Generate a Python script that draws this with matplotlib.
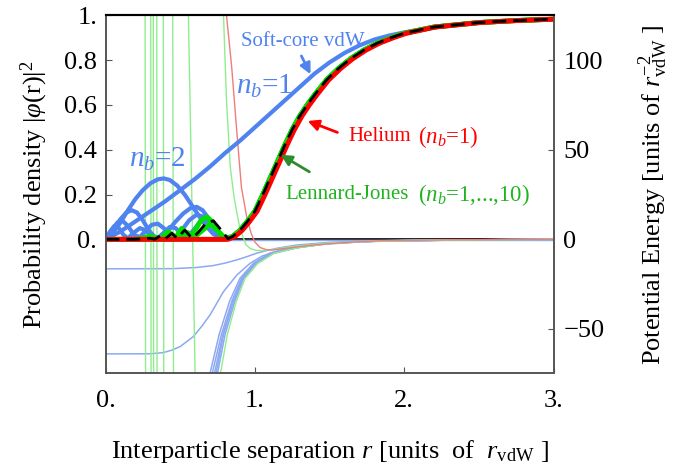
import matplotlib
matplotlib.use('Agg')
import matplotlib.pyplot as plt

plt.rcParams['font.family'] = ['Liberation Serif', 'DejaVu Serif']
plt.rcParams['mathtext.fontset'] = 'custom'
plt.rcParams['mathtext.rm'] = 'Liberation Serif'
plt.rcParams['mathtext.it'] = 'Liberation Serif:italic'
plt.rcParams['mathtext.bf'] = 'Liberation Serif:bold'

# colours
BLUE = '#4F83F0'
GREEN = '#00E000'
RED = '#FF0000'
BLUE_THIN = '#8DA9F2'
GREEN_THIN = '#8EEE8E'
RED_THIN = '#F07C7C'

# ---- wavefunctions |phi(r)|^2 (left axis) ----
# common outer tail (Lennard-Jones / dashed vdW)
tail_x = [0.85, 0.90, 0.95, 1.00, 1.05, 1.10, 1.15, 1.20, 1.25, 1.30, 1.35, 1.40,
          1.48, 1.56, 1.64, 1.73, 1.82, 1.92, 2.00, 2.20, 2.50, 2.75, 3.00]
tail_y = [0.012, 0.04, 0.08, 0.125, 0.195, 0.27, 0.345, 0.42, 0.49, 0.55, 0.60, 0.645,
          0.712, 0.763, 0.806, 0.845, 0.876, 0.902, 0.92, 0.948, 0.968, 0.977, 0.983]

# helium (n_b=1)
he_x = [0.0, 0.82, 0.865, 0.915, 0.965, 1.015, 1.065, 1.115, 1.165, 1.215, 1.265, 1.315,
        1.365, 1.415, 1.495, 1.575, 1.655, 1.745, 1.835, 1.935, 2.015, 2.21, 2.51, 2.76, 3.0]
he_y = [0.0, 0.0, 0.012, 0.04, 0.08, 0.125, 0.195, 0.27, 0.345, 0.42, 0.49, 0.55,
        0.60, 0.645, 0.712, 0.763, 0.806, 0.845, 0.876, 0.902, 0.92, 0.948, 0.968, 0.977, 0.983]

# soft-core vdW, n_b = 1
sc1_x = [0.0, 0.1, 0.2, 0.3, 0.4, 0.5, 0.6, 0.7, 0.8, 0.9, 1.0, 1.1, 1.2, 1.3, 1.4,
         1.5, 1.6, 1.7, 1.8, 1.9, 2.0, 2.2, 2.5, 2.75, 3.0]
sc1_y = [0.0, 0.035, 0.08, 0.125, 0.17, 0.22, 0.27, 0.325, 0.385, 0.44, 0.50, 0.56, 0.62,
         0.68, 0.74, 0.79, 0.832, 0.866, 0.892, 0.91, 0.924, 0.948, 0.968, 0.977, 0.983]

# soft-core vdW, inner lobes for deeper potentials (n_b = 2, ...)
sc2_x = [0.0, 0.05, 0.1, 0.15, 0.2, 0.25, 0.3, 0.35, 0.39, 0.43, 0.48, 0.53, 0.58, 0.63,
         0.68, 0.72, 0.76, 0.80]
sc2_y = [0.0, 0.03, 0.075, 0.13, 0.18, 0.22, 0.25, 0.268, 0.272, 0.265, 0.24, 0.20, 0.15,
         0.10, 0.055, 0.025, 0.008, 0.002]
sc3_x = [0.0, 0.05, 0.1, 0.14, 0.175, 0.21, 0.25, 0.29, 0.33, 0.37, 0.42, 0.47, 0.52, 0.57,
         0.61, 0.65, 0.70, 0.75, 0.80]
sc3_y = [0.0, 0.04, 0.09, 0.12, 0.13, 0.12, 0.085, 0.04, 0.01, 0.01, 0.04, 0.08, 0.115, 0.14,
         0.145, 0.13, 0.085, 0.035, 0.005]
sc4_x = [0.0, 0.04, 0.08, 0.11, 0.15, 0.19, 0.23, 0.27, 0.31, 0.35, 0.39, 0.43, 0.47, 0.51,
         0.56, 0.61, 0.66, 0.71, 0.76, 0.80]
sc4_y = [0.0, 0.04, 0.075, 0.085, 0.06, 0.02, 0.01, 0.04, 0.065, 0.07, 0.05, 0.02, 0.01, 0.04,
         0.085, 0.11, 0.10, 0.06, 0.02, 0.003]
sc5_x = [0.0, 0.03, 0.06, 0.09, 0.12, 0.15, 0.19, 0.23, 0.27, 0.31, 0.35, 0.39, 0.43, 0.47,
         0.51, 0.55, 0.60, 0.65, 0.70, 0.75, 0.80]
sc5_y = [0.0, 0.035, 0.06, 0.05, 0.02, 0.005, 0.03, 0.05, 0.04, 0.01, 0.005, 0.03, 0.055, 0.05,
         0.02, 0.01, 0.05, 0.095, 0.08, 0.03, 0.005]

# Lennard-Jones inner parts
lj1_x = [0.0, 0.80]
lj1_y = [0.0, 0.0]
lj2_x = [0.0, 0.2, 0.26, 0.30, 0.34, 0.37, 0.40, 0.42, 0.45, 0.47, 0.49, 0.51, 0.54, 0.566,
         0.60, 0.64, 0.68, 0.72, 0.76, 0.80]
lj2_y = [0.0, 0.0, 0.008, 0.015, 0.006, 0.002, 0.025, 0.034, 0.02, 0.004, 0.03, 0.049, 0.03,
         0.003, 0.04, 0.085, 0.10, 0.075, 0.03, 0.004]
lj3_x = [0.0, 0.45, 0.5, 0.55, 0.6, 0.65, 0.7, 0.75, 0.8]
lj3_y = [0.0, 0.0, 0.01, 0.03, 0.012, 0.04, 0.07, 0.04, 0.005]

# zero-energy vdW (dashed)
vdw_x = [0.0, 0.2, 0.3, 0.33, 0.365, 0.40, 0.443, 0.48, 0.53, 0.58, 0.62, 0.67, 0.722, 0.77, 0.82]
vdw_y = [0.0, 0.0, 0.005, 0.0, 0.015, 0.002, 0.027, 0.005, 0.041, 0.005, 0.03, 0.07, 0.083,
         0.045, 0.003]

# ---- potentials (right axis) ----
pot_a_x = [0.0, 0.45, 0.6, 0.72, 0.80, 0.88, 0.95, 1.01, 1.08, 1.15, 1.28, 1.5, 1.84, 2.3, 3.0]
pot_a_y = [-16.5, -16.4, -15.8, -14.7, -13.3, -11.5, -9.6, -7.8, -6.3, -5.0, -3.2, -1.7, -0.8,
           -0.35, -0.1]
pot_b_x = [0.0, 0.3, 0.385, 0.44, 0.5, 0.588, 0.645, 0.70, 0.79, 0.88, 0.968, 1.05, 1.17,
           1.39, 1.73, 2.3, 3.0]
pot_b_y = [-64.0, -63.9, -63.3, -62.0, -59.9, -54.3, -48.5, -42.2, -29.2, -19.9, -13.4, -9.3,
           -6.0, -3.2, -1.3, -0.4, -0.1]

# deep soft-core / LJ tails: x position of each curve at fixed energies
tail_E = [-74.8, -53.4, -34.8, -21.8, -13.4, -7.8, -4.7, -2.2, -0.95, -0.3, -0.05]
deep_sc_x = [
    [0.70, 0.76, 0.83, 0.90, 0.99, 1.10, 1.26, 1.48, 1.82, 2.40, 3.0],
    [0.715, 0.775, 0.845, 0.91, 1.00, 1.11, 1.27, 1.49, 1.83, 2.45, 3.0],
    [0.73, 0.785, 0.852, 0.915, 1.005, 1.115, 1.275, 1.50, 1.84, 2.50, 3.0],
    [0.74, 0.79, 0.856, 0.92, 1.01, 1.12, 1.28, 1.50, 1.84, 2.50, 3.0],
    [0.75, 0.80, 0.865, 0.925, 1.015, 1.125, 1.285, 1.51, 1.85, 2.50, 3.0],
]
deep_lj_x = [0.77, 0.815, 0.875, 0.935, 1.02, 1.13, 1.29, 1.52, 1.86, 2.50, 3.0]

# LJ repulsive walls (x at top and bottom of the frame)
wall_top = [0.265, 0.303, 0.320, 0.343, 0.387, 0.45, 0.555]
wall_bot = [0.268, 0.305, 0.322, 0.345, 0.39, 0.455, 0.60]

lj_pot_x = [0.79, 0.81, 0.835, 0.86, 0.88, 0.90, 0.92, 0.94, 0.97, 1.01, 1.06, 1.12, 1.25,
            1.5, 1.84, 2.3, 3.0]
lj_pot_y = [125, 77.7, 40.5, 24.0, 14.5, 6.0, 1.5, -3.0, -5.2, -6.2, -6.3, -5.7, -4.0,
            -2.0, -0.85, -0.3, -0.08]

he_pot_x = [0.81, 0.845, 0.88, 0.91, 0.945, 0.975, 1.0, 1.035, 1.08, 1.12, 1.17, 1.28, 1.39,
            1.62, 1.84, 2.3, 3.0]
he_pot_y = [125, 96, 59, 29, 12.6, 3.3, -1.5, -4.6, -5.9, -6.0, -5.4, -4.3, -3.2, -1.7,
            -0.8, -0.3, -0.08]

x_ticks = [0, 1, 2, 3]
x_ticklabels = ['0.', '1.', '2.', '3.']
y_ticks = [0, 0.2, 0.4, 0.6, 0.8, 1.0]
y_ticklabels = ['0.', '0.2', '0.4', '0.6', '0.8', '1.']
e_ticks = [-50, 0, 50, 100]

fig = plt.figure(figsize=(6.83, 4.66), dpi=100)
ax = fig.add_axes([0.1545, 0.199, 0.656, 0.768])
ax2 = ax.twinx()
ax.set_zorder(ax2.get_zorder() + 1)
ax.patch.set_visible(False)

# potentials
ax2.axhline(0, color='black', lw=1.2, zorder=1)
ax2.plot([0, 3], [-0.3, -0.3], color=BLUE_THIN, lw=1.0)
ax2.plot(pot_a_x, pot_a_y, color=BLUE_THIN, lw=1.1)
ax2.plot(pot_b_x, pot_b_y, color=BLUE_THIN, lw=1.1)
for xs in deep_sc_x:
    ax2.plot(xs, tail_E, color=BLUE_THIN, lw=1.1)
ax2.plot(deep_lj_x, tail_E, color=GREEN_THIN, lw=1.0)
for xt, xb in zip(wall_top, wall_bot):
    ax2.plot([xt, xb], [125, -74.8], color=GREEN_THIN, lw=1.0)
ax2.plot(lj_pot_x, lj_pot_y, color=GREEN_THIN, lw=1.0)
ax2.plot(he_pot_x, he_pot_y, color=RED_THIN, lw=1.0)

# wavefunctions
ax.plot(sc1_x, sc1_y, color=BLUE, lw=3)
for xs, ys in [(sc2_x, sc2_y), (sc3_x, sc3_y), (sc4_x, sc4_y), (sc5_x, sc5_y)]:
    ax.plot(xs + tail_x, ys + tail_y, color=BLUE, lw=3)
for xs, ys in [(lj1_x, lj1_y), (lj2_x, lj2_y), (lj3_x, lj3_y)]:
    ax.plot(xs + tail_x, ys + tail_y, color=GREEN, lw=3.5)
ax.plot(he_x, he_y, color=RED, lw=3.5)
ax.plot(vdw_x + tail_x, vdw_y + tail_y, color='black', lw=2, dashes=(5, 2.5))

# labels and arrows
arrow = dict(arrowstyle='-|>', lw=2, mutation_scale=16)
ax.text(1.318, 0.882, 'Soft-core vdW', color=BLUE, fontsize=15, ha='center', va='center')
ax.annotate('', xy=(1.381, 0.726), xytext=(1.303, 0.83), arrowprops=dict(arrow, color=BLUE))
ax.text(0.875, 0.685, r'$n_b$=1', color=BLUE, fontsize=21, ha='left', va='center')
ax.text(0.16, 0.355, r'$n_b$=2', color=BLUE, fontsize=21, ha='left', va='center')
ax.text(1.625, 0.458, 'Helium', color=RED, fontsize=15, ha='left', va='center')
ax.text(2.093, 0.458, r'($n_b$=1)', color=RED, fontsize=16.5, ha='left', va='center')
ax.annotate('', xy=(1.336, 0.533), xytext=(1.57, 0.473), arrowprops=dict(arrow, color=RED))
ax.text(1.202, 0.198, 'Lennard-Jones', color='#1EB41E', fontsize=15, ha='left', va='center')
ax.text(2.095, 0.198, r'($n_b$=1,...,10)', color='#1EB41E', fontsize=16.5,
        ha='left', va='center')
ax.annotate('', xy=(1.157, 0.384), xytext=(1.381, 0.295),
            arrowprops=dict(arrow, color='#2E8B2E'))

# axes
ax.set_xlim(0, 3)
ax.set_ylim(-0.598, 1.0)
ax2.set_ylim(-74.8, 125)
ax.set_xticks(x_ticks)
ax.set_xticklabels(x_ticklabels)
ax.set_yticks(y_ticks)
ax.set_yticklabels(y_ticklabels)
ax2.set_yticks(e_ticks)
ax.tick_params(axis='both', direction='in', length=4, labelsize=19, color='#555555')
ax.tick_params(axis='x', pad=12)
ax.tick_params(axis='y', pad=6)
ax2.tick_params(axis='y', direction='in', length=4, labelsize=19, pad=7, color='#555555')
for a in (ax, ax2):
    for side in ('left', 'right', 'bottom'):
        a.spines[side].set_color('#555555')
        a.spines[side].set_linewidth(1.2)
    a.spines['top'].set_color('black')
    a.spines['top'].set_linewidth(1.5)

ax.set_xlabel(r'Interparticle separation $r$ [units  of  $r_{\rm vdW}$ ]', fontsize=19)
ax.set_ylabel(r'Probability density $|\varphi(\rm r)|^2$', fontsize=19)
ax2.set_ylabel(r'Potential Energy [units of $r_{\rm vdW}^{-2}$ ]', fontsize=19)
ax.xaxis.set_label_coords(0.5, -0.18)
ax.yaxis.set_label_coords(-0.124, 0.5)
ax2.yaxis.set_label_coords(1.185, 0.5)

fig.savefig('out.png', dpi=100)
